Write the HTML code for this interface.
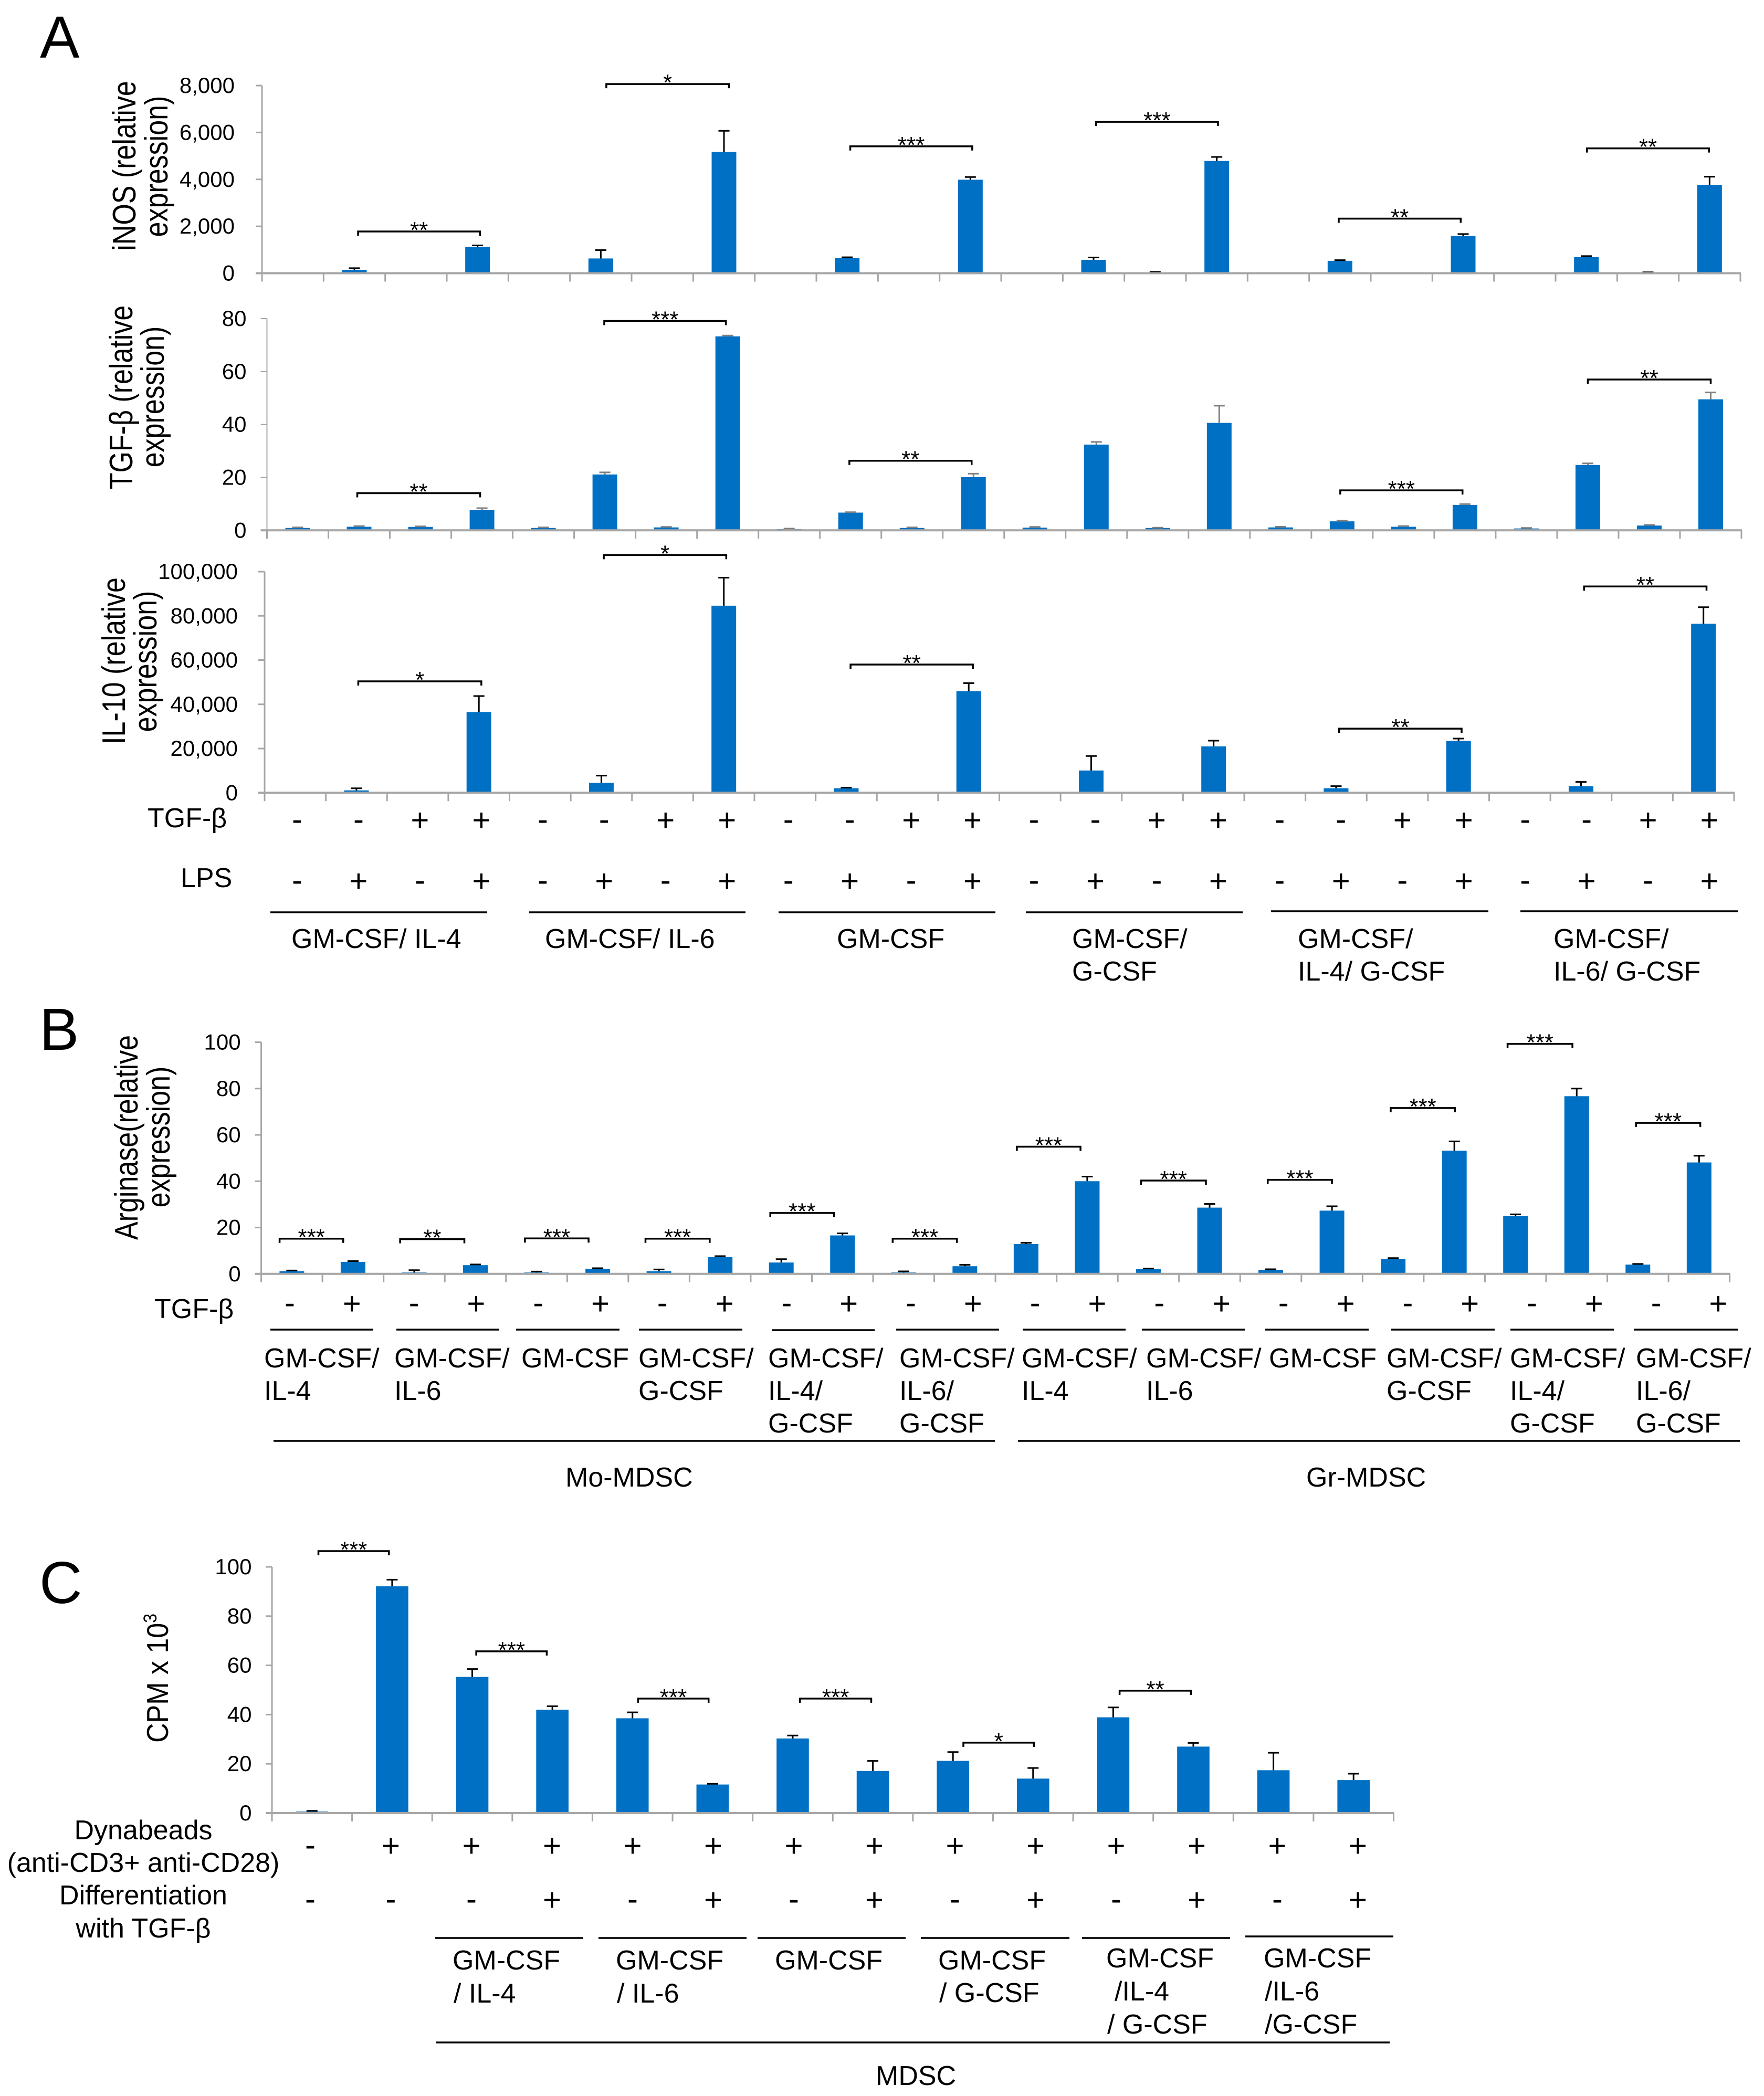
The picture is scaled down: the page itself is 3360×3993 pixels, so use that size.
<!DOCTYPE html>
<html lang="en">
<head>
<meta charset="utf-8">
<title>Expression and proliferation bar charts</title>
<style>
html,body{margin:0;padding:0;background:#fff;}
svg{display:block;}
text{font-family:"Liberation Sans",sans-serif;fill:#000;}
.t{font-size:52px;}
.p{font-size:113px;}
.l{stroke:#000;stroke-width:3.5;}
</style>
</head>
<body>
<svg id="figure" xmlns="http://www.w3.org/2000/svg" width="3360" height="3993" viewBox="0 0 3360 3993">
<rect width="3360" height="3993" fill="#fff"/>

<text class="p" x="76" y="110">A</text>
<text class="p" x="75" y="2000">B</text>
<text class="p" x="75" y="3054">C</text>

<text class="t" text-anchor="middle" transform="translate(258,316) rotate(-90) scale(1,1.2)">iNOS (relative</text>
<text class="t" text-anchor="middle" transform="translate(319,317) rotate(-90) scale(1,1.2)">expression)</text>
<text class="t" text-anchor="middle" transform="translate(252,757) rotate(-90) scale(1,1.2)">TGF-β (relative</text>
<text class="t" text-anchor="middle" transform="translate(312,756) rotate(-90) scale(1,1.2)">expression)</text>
<text class="t" text-anchor="middle" transform="translate(238,1259) rotate(-90) scale(1,1.2)">IL-10 (relative</text>
<text class="t" text-anchor="middle" transform="translate(298,1260) rotate(-90) scale(1,1.2)">expression)</text>
<text class="t" text-anchor="middle" transform="translate(262,2167) rotate(-90) scale(1,1.2)">Arginase(relative</text>
<text class="t" text-anchor="middle" transform="translate(323,2166) rotate(-90) scale(1,1.2)">expression)</text>
<text class="t" text-anchor="middle" transform="translate(320,3197) rotate(-90) scale(1,1.1)">CPM x 10<tspan dy="-20" font-size="32">3</tspan></text>

<!-- Panel A row headers and groups -->
<text class="t" x="281" y="1576">TGF-β</text>
<text class="t" x="344" y="1690">LPS</text>
<g class="l">
<line x1="515" x2="928" y1="1738" y2="1738"/><line x1="1008" x2="1420" y1="1738" y2="1738"/><line x1="1483" x2="1896" y1="1738" y2="1738"/><line x1="1954" x2="2367" y1="1738" y2="1738"/><line x1="2421" x2="2835" y1="1736" y2="1736"/><line x1="2896" x2="3310" y1="1736" y2="1736"/>
</g>
<text class="t" x="555" y="1806">GM-CSF/ IL-4</text>
<text class="t" x="1038" y="1806">GM-CSF/ IL-6</text>
<text class="t" x="1594" y="1806">GM-CSF</text>
<text class="t"><tspan x="2042" y="1806">GM-CSF/</tspan><tspan x="2042" y="1868">G-CSF</tspan></text>
<text class="t"><tspan x="2472" y="1806">GM-CSF/</tspan><tspan x="2472" y="1868">IL-4/ G-CSF</tspan></text>
<text class="t"><tspan x="2959" y="1806">GM-CSF/</tspan><tspan x="2959" y="1868">IL-6/ G-CSF</tspan></text>

<!-- Panel B row header and groups -->
<text class="t" x="294" y="2511">TGF-β</text>
<g class="l">
<line x1="515" x2="711" y1="2533" y2="2533"/><line x1="755" x2="951" y1="2533" y2="2533"/><line x1="983" x2="1180" y1="2533" y2="2533"/><line x1="1217" x2="1414" y1="2533" y2="2533"/><line x1="1470" x2="1666" y1="2534" y2="2534"/><line x1="1707" x2="1903" y1="2533" y2="2533"/><line x1="1948" x2="2144" y1="2533" y2="2533"/><line x1="2175" x2="2371" y1="2533" y2="2533"/><line x1="2410" x2="2607" y1="2533" y2="2533"/><line x1="2650" x2="2847" y1="2533" y2="2533"/><line x1="2877" x2="3074" y1="2533" y2="2533"/><line x1="3112" x2="3310" y1="2533" y2="2533"/>
<line x1="521" x2="1895" y1="2745" y2="2745"/><line x1="1939" x2="3314" y1="2745" y2="2745"/>
</g>
<text class="t"><tspan x="503" y="2605">GM-CSF/</tspan><tspan x="503" y="2667">IL-4</tspan></text>
<text class="t"><tspan x="751" y="2605">GM-CSF/</tspan><tspan x="751" y="2667">IL-6</tspan></text>
<text class="t" x="993" y="2605">GM-CSF</text>
<text class="t"><tspan x="1216" y="2605">GM-CSF/</tspan><tspan x="1216" y="2667">G-CSF</tspan></text>
<text class="t"><tspan x="1463" y="2605">GM-CSF/</tspan><tspan x="1463" y="2667">IL-4/</tspan><tspan x="1463" y="2729">G-CSF</tspan></text>
<text class="t"><tspan x="1713" y="2605">GM-CSF/</tspan><tspan x="1713" y="2667">IL-6/</tspan><tspan x="1713" y="2729">G-CSF</tspan></text>
<text class="t"><tspan x="1946" y="2605">GM-CSF/</tspan><tspan x="1946" y="2667">IL-4</tspan></text>
<text class="t"><tspan x="2183" y="2605">GM-CSF/</tspan><tspan x="2183" y="2667">IL-6</tspan></text>
<text class="t" x="2417" y="2605">GM-CSF</text>
<text class="t"><tspan x="2641" y="2605">GM-CSF/</tspan><tspan x="2641" y="2667">G-CSF</tspan></text>
<text class="t"><tspan x="2876" y="2605">GM-CSF/</tspan><tspan x="2876" y="2667">IL-4/</tspan><tspan x="2876" y="2729">G-CSF</tspan></text>
<text class="t"><tspan x="3116" y="2605">GM-CSF/</tspan><tspan x="3116" y="2667">IL-6/</tspan><tspan x="3116" y="2729">G-CSF</tspan></text>
<text class="t" x="1077" y="2832">Mo-MDSC</text>
<text class="t" x="2488" y="2832">Gr-MDSC</text>

<!-- Panel C row headers and groups -->
<text class="t" text-anchor="middle" x="273" y="3504">Dynabeads</text>
<text class="t" text-anchor="middle" x="273" y="3566">(anti-CD3+ anti-CD28)</text>
<text class="t" text-anchor="middle" x="273" y="3628">Differentiation</text>
<text class="t" text-anchor="middle" x="273" y="3691">with TGF-β</text>
<g class="l">
<line x1="829" x2="1111" y1="3692" y2="3692"/><line x1="1140" x2="1422" y1="3692" y2="3692"/><line x1="1443" x2="1725" y1="3692" y2="3692"/><line x1="1754" x2="2037" y1="3692" y2="3692"/><line x1="2061" x2="2343" y1="3692" y2="3692"/><line x1="2372" x2="2654" y1="3689" y2="3689"/>
<line x1="831" x2="2647" y1="3891" y2="3891"/>
</g>
<text class="t"><tspan x="862" y="3752">GM-CSF</tspan><tspan x="864" y="3815">/ IL-4</tspan></text>
<text class="t"><tspan x="1173" y="3752">GM-CSF</tspan><tspan x="1175" y="3815">/ IL-6</tspan></text>
<text class="t" x="1476" y="3752">GM-CSF</text>
<text class="t"><tspan x="1787" y="3752">GM-CSF</tspan><tspan x="1789" y="3814">/ G-CSF</tspan></text>
<text class="t"><tspan x="2107" y="3748">GM-CSF</tspan><tspan x="2123" y="3811">/IL-4</tspan><tspan x="2109" y="3874">/ G-CSF</tspan></text>
<text class="t"><tspan x="2407" y="3748">GM-CSF</tspan><tspan x="2409" y="3811">/IL-6</tspan><tspan x="2409" y="3874">/G-CSF</tspan></text>
<text class="t" x="1668" y="3972">MDSC</text>
</svg>

<script>
// iNOS
const inosValues = [0,143,0,1128,0,629,0,5171,0,657,0,3986,0,571,43,4786,0,529,0,1586,0,686,30,3771];
const inosErrors = [0,71,0,58,0,357,0,900,0,23,0,114,0,100,14,171,0,28,0,85,0,43,10,343];
const inosTicks = [0,2000,4000,6000,8000];
const inosTickLabels = ['0','2,000','4,000','6,000','8,000'];
const inosBracketFrom = [1.06,5.09,9.05,13.04,16.98,21.01];
const inosBracketTo = [3.04,7.08,11.03,15.02,18.96,22.99];
const inosBracketLevel = [1779,8065,5409,6454,2327,5324];
const inosBracketStars = ['**','*','***','***','**','**'];

// TGF-beta
const tgfValues = [0.9,1.35,1.3,7.6,0.9,21.1,1.1,73.3,0.45,6.7,0.9,20.1,1.0,32.4,0.9,40.6,1.1,3.4,1.35,9.6,0.7,24.7,1.8,49.5];
const tgfErrors = [0.2,0.25,0.2,0.8,0.2,0.8,0.2,0.3,0.2,0.15,0.2,1.3,0.3,1.0,0.1,6.5,0.25,0.2,0.25,0.3,0.2,0.6,0.25,2.6];
const tgfTicks = [0,20,40,60,80];
const tgfTickLabels = ['0','20','40','60','80'];
const tgfBracketFrom = [0.97,4.99,8.98,16.97,21.0];
const tgfBracketTo = [2.97,6.97,10.97,18.96,23.0];
const tgfBracketLevel = [14.05,79.1,26.3,15.1,57];
const tgfBracketStars = ['**','***','**','***','**'];

// IL-10
const il10Values = [0,1090,0,36512,0,4496,0,84600,0,2044,0,45913,0,10082,0,20981,0,2044,0,23433,0,2997,0,76430];
const il10Errors = [0,954,0,7221,0,3270,0,12675,0,272,0,3677,0,6538,0,2589,0,953,0,1090,0,1908,0,7490];
const il10Ticks = [0,20000,40000,60000,80000,100000];
const il10TickLabels = ['0','20,000','40,000','60,000','80,000','100,000'];
const il10BracketFrom = [1.03,5.04,9.07,17.05,21.05];
const il10BracketTo = [3.04,7.04,11.07,19.05,23.05];
const il10BracketLevel = [50390,107500,58000,29000,93300];
const il10BracketStars = ['*','*','**','**','**'];

// Panel A treatment rows
const panelATgfRow = ['-','-','+','+','-','-','+','+','-','-','+','+','-','-','+','+','-','-','+','+','-','-','+','+'];
const panelALpsRow = ['-','+','-','+','-','+','-','+','-','+','-','+','-','+','-','+','-','+','-','+','-','+','-','+'];

// Arginase
const argValues = [1.16,5.2,0.6,3.76,0.6,2.2,1.16,7.2,4.9,16.6,0.6,3.3,12.9,40,2,28.6,1.7,27.3,6.5,53.2,24.9,76.7,4,48.1];
const argErrors = [0.29,0.3,1.0,0.29,0.4,0.25,0.74,0.46,1.46,0.9,0.5,0.6,0.5,2,0.3,1.6,0.3,1.9,0.3,4,0.8,3.3,0.3,2.9];
const argTicks = [0,20,40,60,80,100];
const argTickLabels = ['0','20','40','60','80','100'];
const argBracketFrom = [-0.2,1.77,3.81,5.78,7.82,9.82,11.85,13.88,15.95,17.96,19.87,21.97];
const argBracketTo = [0.84,2.82,4.85,6.83,8.86,10.87,12.89,14.94,17,19.01,20.93,23.02];
const argBracketLevel = [15.2,15,15.3,15.2,26.3,15.2,54.9,40.3,40.6,71.6,99.3,65.2];
const argBracketStars = ['***','**','***','***','***','***','***','***','***','***','***','***'];
const panelBTgfRow = ['-','+','-','+','-','+','-','+','-','+','-','+','-','+','-','+','-','+','-','+','-','+','-','+'];

// CPM
const cpmValues = [0.6,92.1,55.3,42,38.5,11.6,30.3,17.1,21.2,14,38.9,27,17.4,13.4];
const cpmErrors = [0.3,2.7,3.2,1.4,2.4,0.3,1.2,4.1,3.6,4.3,4,1.5,7.1,2.6];
const cpmTicks = [0,20,40,60,80,100];
const cpmTickLabels = ['0','20','40','60','80','100'];
const cpmBracketFrom = [0.08,2.05,4.07,6.09,8.13,10.08];
const cpmBracketTo = [0.96,2.93,4.95,6.98,9.01,10.97];
const cpmBracketLevel = [106.4,65.7,46.5,46.5,28.6,49.7];
const cpmBracketStars = ['***','***','***','***','*','**'];
const dynabeadsRow = ['-','+','+','+','+','+','+','+','+','+','+','+','+','+'];
const differentiationRow = ['-','-','-','+','-','+','-','+','-','+','-','+','-','+'];

const NS = 'http://www.w3.org/2000/svg';
const root = document.getElementById('figure');

function make(tag, attrs, parent) {
  const el = document.createElementNS(NS, tag);
  for (const k in attrs) el.setAttribute(k, attrs[k]);
  parent.appendChild(el);
  return el;
}

function drawPanel(id, g, values, errors, ticks, tickLabels, bFrom, bTo, bLevel, bStars) {
  const n = values.length;
  const step = (g.right - g.left) / n;
  const xScale = i => g.left + (i + 0.5) * step;
  const yScale = v => g.y0 - v / g.max * (g.y0 - g.yTop);

  const panel = make('g', {}, root);
  
  

  values.forEach((v, i) => {
    if (v <= 0) return;
    const bar = make('rect', {x: xScale(i) - g.barWidth / 2, y: yScale(v), width: g.barWidth, height: g.y0 - yScale(v), fill: '#0070c4'}, panel);
    
    
    const top = yScale(v + errors[i]);
    const err = make('path', {d: 'M' + xScale(i) + ' ' + yScale(v) + 'V' + top + 'M' + (xScale(i) - g.cap / 2) + ' ' + top + 'H' + (xScale(i) + g.cap / 2), fill: 'none', stroke: g.errColor, 'stroke-width': 3}, panel);
    
    
  });

  const yAxis = make('line', {x1: g.left, x2: g.left, y1: g.yTop, y2: g.y0, stroke: g.axisColor, 'stroke-width': g.yAxisWidth}, panel);
  
  
  const xAxis = make('line', {x1: g.left - 12, x2: g.right + 1, y1: g.y0, y2: g.y0, stroke: g.axisColor, 'stroke-width': 4}, panel);
  
  

  for (let i = 0; i <= n; i++) {
    const xt = g.left + i * step;
    const tick = make('line', {x1: xt, x2: xt, y1: g.y0, y2: g.y0 + 16, stroke: g.axisColor, 'stroke-width': 3}, panel);
    
    
  }

  ticks.forEach((t, i) => {
    const yt = yScale(t);
    const tick = make('line', {x1: g.left - 12, x2: g.left, y1: yt, y2: yt, stroke: g.axisColor, 'stroke-width': g.yAxisWidth}, panel);
    
    
    const label = make('text', {x: g.labelRight, y: yt + 14, 'text-anchor': 'end', 'font-size': 42}, panel);
    label.textContent = tickLabels[i];
    
    
  });

  bFrom.forEach((from, i) => {
    const x1 = xScale(from), x2 = xScale(bTo[i]), yb = yScale(bLevel[i]);
    const br = make('path', {d: 'M' + x1 + ' ' + (yb + 8) + 'V' + yb + 'H' + x2 + 'V' + (yb + 8), fill: 'none', stroke: '#000', 'stroke-width': 3.5}, panel);
    
    
    const st = make('text', {x: (x1 + x2) / 2, y: yb + 12, 'text-anchor': 'middle', 'font-size': 44}, panel);
    st.textContent = bStars[i];
    
    
  });
}

function drawRow(id, row, firstX, stepX, centerY) {
  row.forEach((s, i) => {
    const baseline = centerY + (s === '+' ? 19 : 17);
    const mark = make('text', {x: firstX + i * stepX, y: baseline, 'text-anchor': 'middle', 'font-size': 60}, root);
    mark.textContent = s;
    
    
  });
}

drawPanel('inos', {left: 499, right: 3315, y0: 520.5, yTop: 163, max: 8000, barWidth: 47, cap: 21, errColor: '#000', axisColor: '#a6a6a6', yAxisWidth: 3, labelRight: 447}, inosValues, inosErrors, inosTicks, inosTickLabels, inosBracketFrom, inosBracketTo, inosBracketLevel, inosBracketStars);
drawPanel('tgf', {left: 508.5, right: 3317, y0: 1010.3, yTop: 607, max: 80, barWidth: 47, cap: 21, errColor: '#808080', axisColor: '#a6a6a6', yAxisWidth: 2, labelRight: 469.5}, tgfValues, tgfErrors, tgfTicks, tgfTickLabels, tgfBracketFrom, tgfBracketTo, tgfBracketLevel, tgfBracketStars);
drawPanel('il10', {left: 504, right: 3303, y0: 1510.3, yTop: 1089, max: 100000, barWidth: 47, cap: 21, errColor: '#000', axisColor: '#a6a6a6', yAxisWidth: 3, labelRight: 453}, il10Values, il10Errors, il10Ticks, il10TickLabels, il10BracketFrom, il10BracketTo, il10BracketLevel, il10BracketStars);
drawPanel('arginase', {left: 497.6, right: 3294.6, y0: 2426.8, yTop: 1985.5, max: 100, barWidth: 47, cap: 21, errColor: '#000', axisColor: '#a6a6a6', yAxisWidth: 3, labelRight: 458.6}, argValues, argErrors, argTicks, argTickLabels, argBracketFrom, argBracketTo, argBracketLevel, argBracketStars);
drawPanel('cpm', {left: 518, right: 2654.5, y0: 3454, yTop: 2985, max: 100, barWidth: 61.6, cap: 21, errColor: '#000', axisColor: '#a6a6a6', yAxisWidth: 3, labelRight: 479.5}, cpmValues, cpmErrors, cpmTicks, cpmTickLabels, cpmBracketFrom, cpmBracketTo, cpmBracketLevel, cpmBracketStars);

drawRow('panel-a-tgf', panelATgfRow, 566, 116.96, 1564);
drawRow('panel-a-lps', panelALpsRow, 566, 116.96, 1680);
drawRow('panel-b-tgf', panelBTgfRow, 552, 118.3, 2485);
drawRow('dynabeads', dynabeadsRow, 591, 153.5, 3518);
drawRow('differentiation', differentiationRow, 591, 153.5, 3621);
</script>
</body>
</html>
